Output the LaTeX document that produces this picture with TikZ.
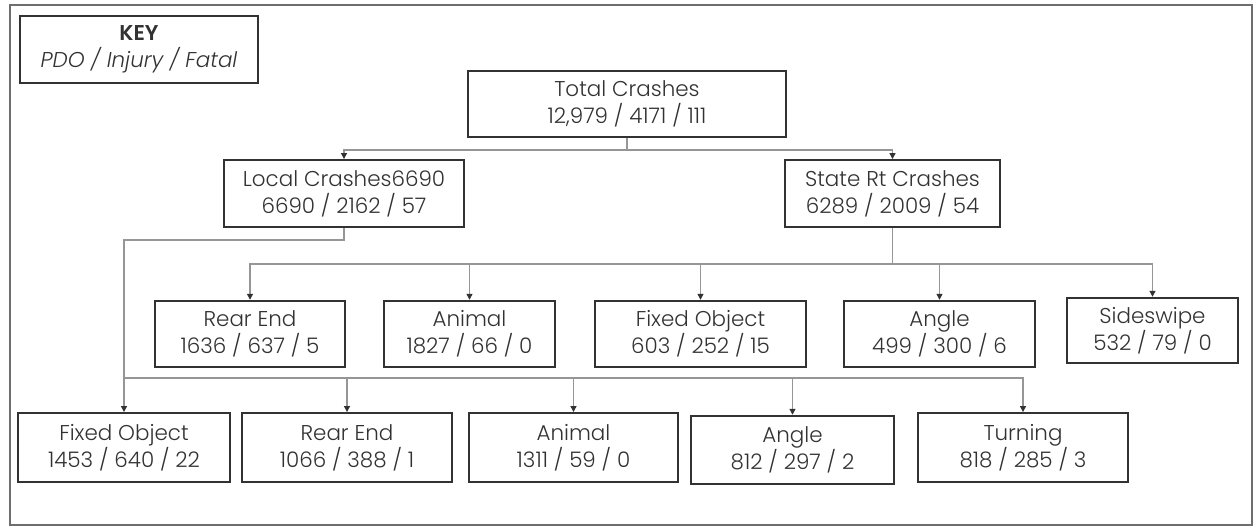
\documentclass[tikz,border=0pt]{standalone}
\usepackage{fontspec}
\setmainfont{Poppins}[UprightFont=* Light, ItalicFont=* Light Italic, BoldFont=* SemiBold]
\usepackage{xcolor}
\definecolor{boxline}{RGB}{50, 50, 50}
\definecolor{linkgray}{RGB}{150, 150, 150}
\definecolor{textgray}{RGB}{50, 50, 50}
\definecolor{framegray}{RGB}{110, 110, 110}
\usepackage{tikz}
\usetikzlibrary{arrows.meta,positioning,calc}

\begin{document}
\begin{tikzpicture}[
  x=0.02cm, y=-0.02cm,
  crashbox/.style={draw=boxline, line width=1.1pt, text=textgray, font=\fontsize{12.2}{15.4}\selectfont, align=center, inner sep=0pt, minimum height=1.33cm},
  arrow/.style={-{Triangle[length=1.2mm, width=1.2mm, color=boxline]}, line width=0.7pt, color=linkgray},
  link/.style={line width=0.7pt, color=linkgray}
]
\useasboundingbox (0,0) rectangle (1258,526);
\draw[framegray, line width=1.1pt] (10,5) rectangle (1252,525);

% key and top levels
\node[crashbox, minimum width=4.76cm, minimum height=1.34cm] (key) at (139,49.5) {\textbf{KEY}\\\textit{PDO / Injury / Fatal}};
\node[crashbox, minimum width=6.36cm, minimum height=1.32cm] (total) at (627,104) {Total Crashes\\12,979 / 4171 / 111};
\node[crashbox, minimum width=4.8cm, minimum height=1.34cm] (local) at (344,193.5) {Local Crashes6690\\6690 / 2162 / 57};
\node[crashbox, minimum width=4.3cm, minimum height=1.34cm] (state) at (892.5,193.5) {State Rt Crashes\\6289 / 2009 / 54};

% state route types
\node[crashbox, minimum width=3.8cm] (srear) at (250,334) {Rear End\\1636 / 637 / 5};
\node[crashbox, minimum width=3.42cm] (sanimal) at (469.5,334) {Animal\\1827 / 66 / 0};
\node[crashbox, minimum width=4.22cm] (sfixed) at (700.5,334) {Fixed Object\\603 / 252 / 15};
\node[crashbox, minimum width=3.82cm] (sangle) at (939.5,334) {Angle\\499 / 300 / 6};
\node[crashbox, minimum width=3.42cm, minimum height=1.3cm, line width=1.4pt] (sside) at (1152.5,330.5) {Sideswipe\\532 / 79 / 0};

% local types
\node[crashbox, minimum width=4.24cm, minimum height=1.38cm] (lfixed) at (124,447.5) {Fixed Object\\1453 / 640 / 22};
\node[crashbox, minimum width=4.2cm, minimum height=1.38cm] (lrear) at (347,447.5) {Rear End\\1066 / 388 / 1};
\node[crashbox, minimum width=4.18cm, minimum height=1.38cm] (lanimal) at (573.5,447.5) {Animal\\1311 / 59 / 0};
\node[crashbox, minimum width=4.06cm, minimum height=1.36cm, line width=1.4pt] (langle) at (792.5,450) {Angle\\812 / 297 / 2};
\node[crashbox, minimum width=4.2cm, minimum height=1.38cm] (lturn) at (1023,447.5) {Turning\\818 / 285 / 3};

\draw[arrow] (total.south) -- ++(0,12) -| (local.north);
\draw[arrow] (total.south) -- ++(0,12) -| (state.north);

\foreach \n in {srear,sanimal,sfixed,sangle,sside}
  \draw[arrow] (state.south) -- ++(0,36) -| (\n.north);

\coordinate (lbus) at (124,378);
\draw[arrow] (local.south) -- ++(0,12) -| (lfixed.north);
\foreach \n in {lrear,lanimal,langle,lturn}
  \draw[arrow] (lbus) -| (\n.north);
\end{tikzpicture}
\end{document}
